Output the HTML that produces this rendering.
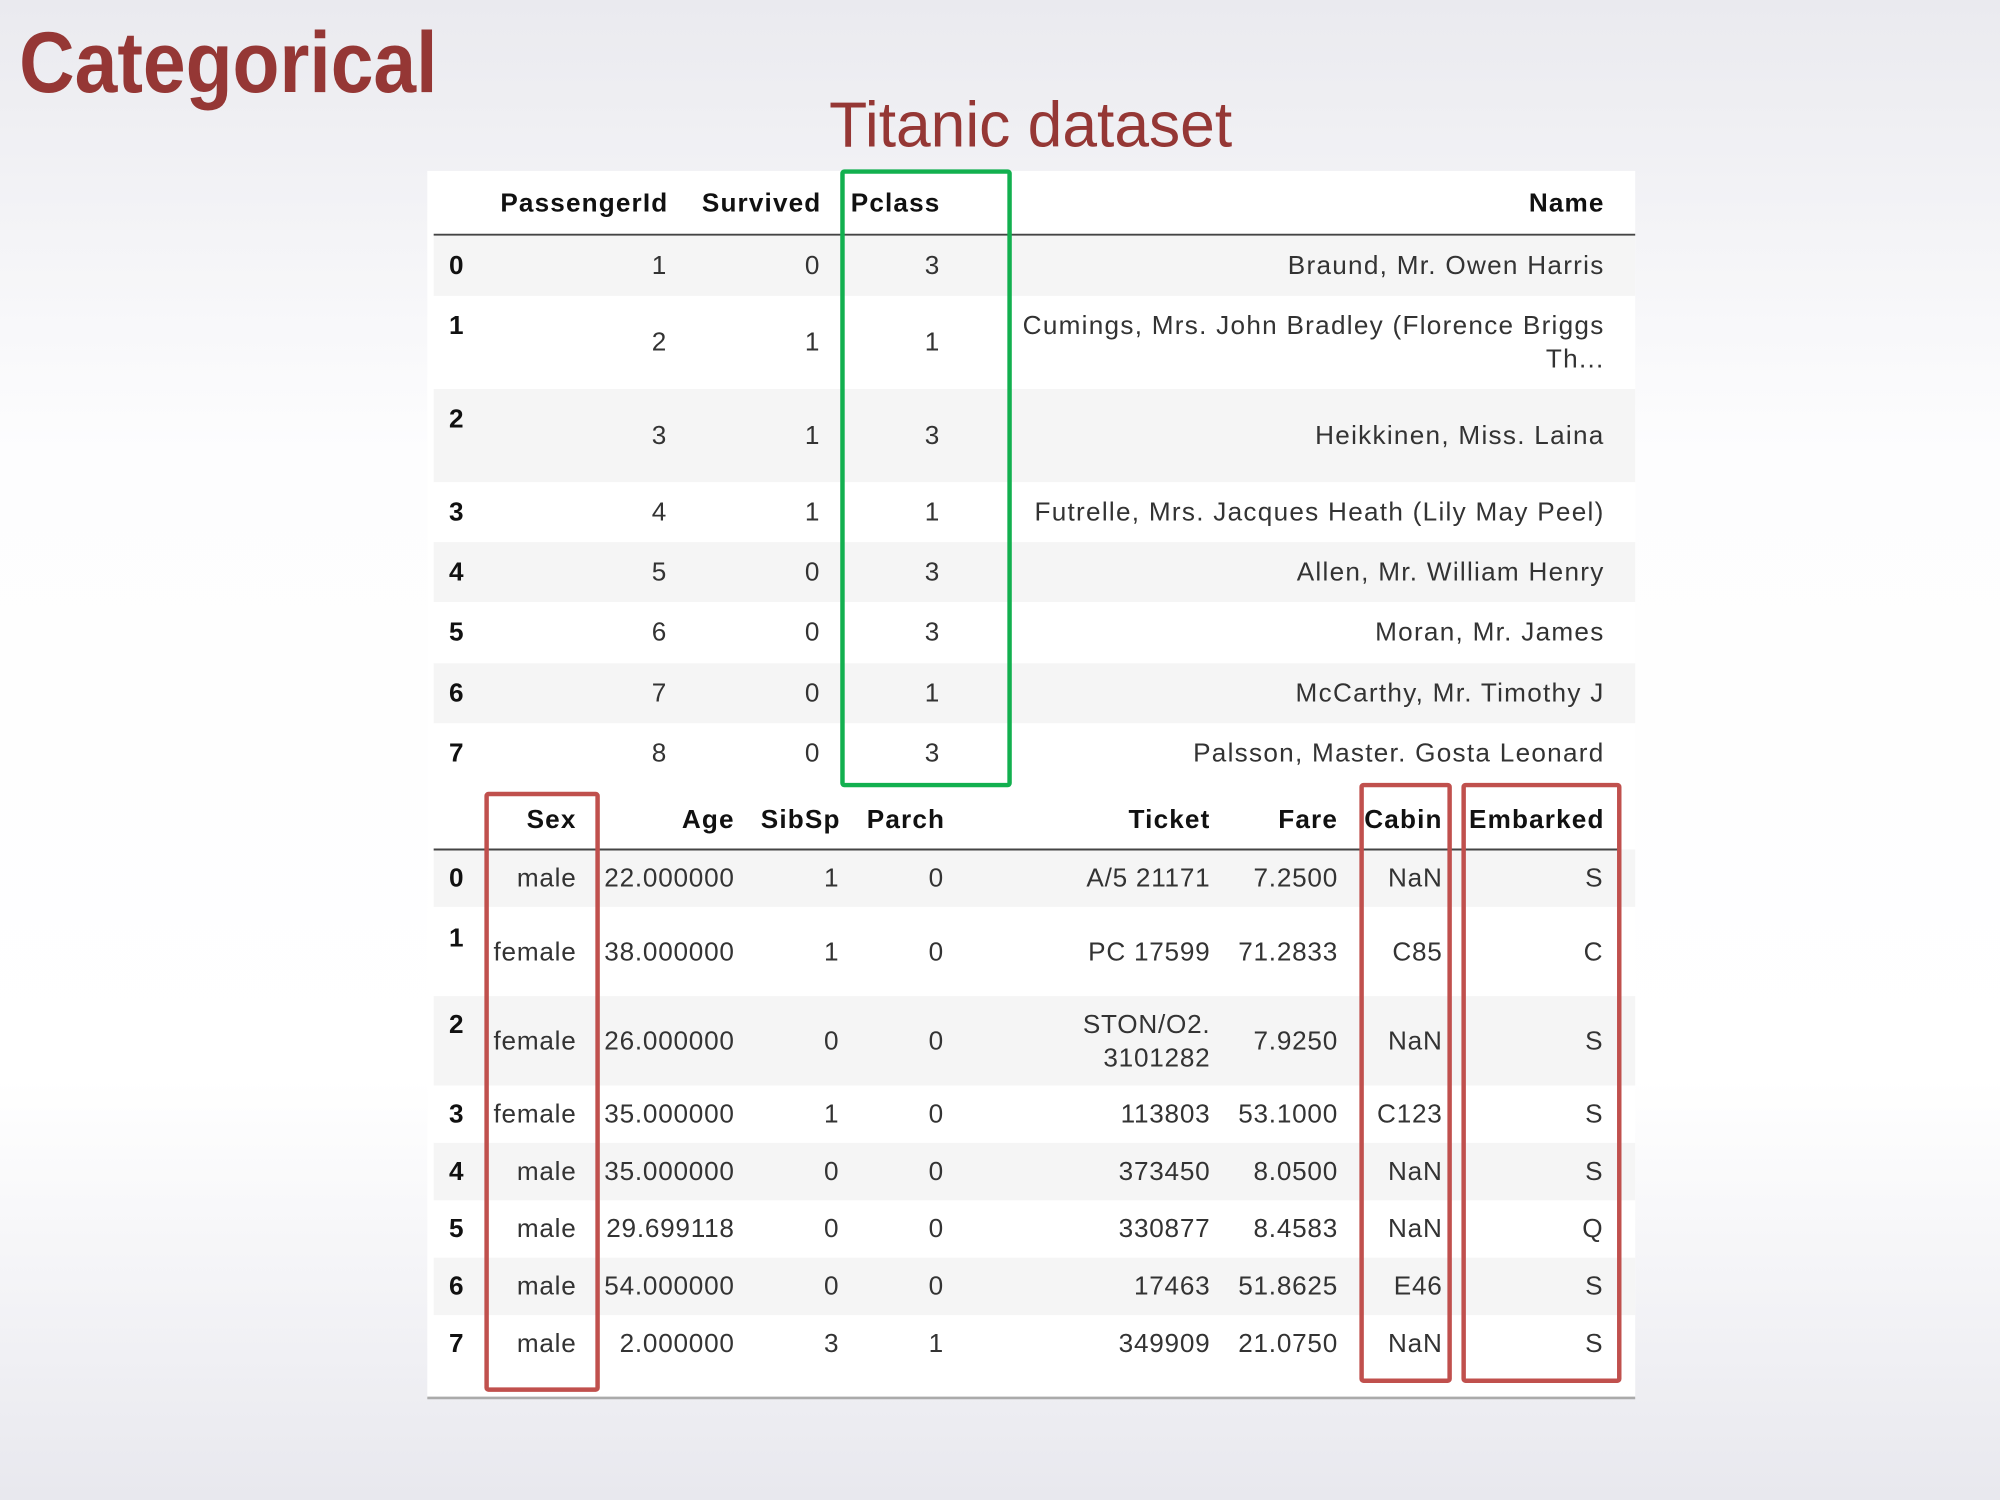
<!DOCTYPE html>
<html><head><meta charset="utf-8"><style>
html,body{margin:0;padding:0;width:2000px;height:1500px;overflow:hidden}
svg{display:block}
.t{font-family:"Liberation Sans",Arial,sans-serif;font-size:20.5px;fill:#333;letter-spacing:0.6px}
.n{letter-spacing:1px}
.h{font-family:"Liberation Sans",Arial,sans-serif;font-size:20.5px;font-weight:bold;fill:#111;letter-spacing:0.9px}
</style></head><body>
<svg width="2000" height="1500" viewBox="0 0 1568 1176" xmlns="http://www.w3.org/2000/svg">
<defs><linearGradient id="bg" x1="0" y1="0" x2="0" y2="1">
<stop offset="0" stop-color="#eaeaef"/><stop offset="0.3" stop-color="#fdfdfe"/><stop offset="0.72" stop-color="#ffffff"/><stop offset="1" stop-color="#e8e8ee"/></linearGradient></defs>
<rect width="1568" height="1176" fill="url(#bg)"/>
<text x="15" y="72" font-family="Liberation Sans,Arial,sans-serif" font-weight="bold" font-size="68" fill="#953735" textLength="328" lengthAdjust="spacingAndGlyphs">Categorical</text>
<text x="650" y="115" font-family="Liberation Sans,Arial,sans-serif" font-size="50" fill="#953735" textLength="316" lengthAdjust="spacingAndGlyphs">Titanic dataset</text>
<rect x="335" y="134" width="947" height="962" fill="#fff"/>
<g fill="#f5f5f5">
<rect x="340" y="185" width="942" height="47"/>
<rect x="340" y="305" width="942" height="73"/>
<rect x="340" y="425" width="942" height="47"/>
<rect x="340" y="520" width="942" height="47"/>
<rect x="340" y="666" width="942" height="45"/>
<rect x="340" y="781" width="942" height="70"/>
<rect x="340" y="896" width="942" height="45"/>
<rect x="340" y="986" width="942" height="45"/>
</g>
<line x1="340" y1="184" x2="1282" y2="184" stroke="#444" stroke-width="1.5"/>
<line x1="340" y1="666" x2="1270" y2="666" stroke="#444" stroke-width="1.5"/>
<line x1="335" y1="1096" x2="1282" y2="1096" stroke="#aaa" stroke-width="2"/>
<g class="h" text-anchor="end">
<text x="524" y="166">PassengerId</text><text x="644" y="166">Survived</text><text x="1258" y="166">Name</text>
</g>
<text class="h" x="667" y="166">Pclass</text>
<g class="h"><text x="352" y="215">0</text><text x="352" y="262">1</text><text x="352" y="335">2</text><text x="352" y="408">3</text><text x="352" y="455">4</text><text x="352" y="502">5</text><text x="352" y="550">6</text><text x="352" y="597">7</text></g>
<g class="t" text-anchor="end">
<text x="523" y="215">1</text><text x="643" y="215">0</text><text x="737" y="215">3</text><text class="n" x="1258" y="215">Braund, Mr. Owen Harris</text>
<text x="523" y="275">2</text><text x="643" y="275">1</text><text x="737" y="275">1</text><text class="n" x="1258" y="262">Cumings, Mrs. John Bradley (Florence Briggs</text><text class="n" x="1258" y="288">Th...</text>
<text x="523" y="348">3</text><text x="643" y="348">1</text><text x="737" y="348">3</text><text class="n" x="1258" y="348">Heikkinen, Miss. Laina</text>
<text x="523" y="408">4</text><text x="643" y="408">1</text><text x="737" y="408">1</text><text class="n" x="1258" y="408">Futrelle, Mrs. Jacques Heath (Lily May Peel)</text>
<text x="523" y="455">5</text><text x="643" y="455">0</text><text x="737" y="455">3</text><text class="n" x="1258" y="455">Allen, Mr. William Henry</text>
<text x="523" y="502">6</text><text x="643" y="502">0</text><text x="737" y="502">3</text><text class="n" x="1258" y="502">Moran, Mr. James</text>
<text x="523" y="550">7</text><text x="643" y="550">0</text><text x="737" y="550">1</text><text class="n" x="1258" y="550">McCarthy, Mr. Timothy J</text>
<text x="523" y="597">8</text><text x="643" y="597">0</text><text x="737" y="597">3</text><text class="n" x="1258" y="597">Palsson, Master. Gosta Leonard</text>
</g>
<g class="h" text-anchor="end">
<text x="452" y="649">Sex</text><text x="576" y="649">Age</text><text x="659" y="649">SibSp</text><text x="741" y="649">Parch</text><text x="949" y="649">Ticket</text><text x="1049" y="649">Fare</text><text x="1131" y="649">Cabin</text><text x="1258" y="649">Embarked</text>
</g>
<g class="h"><text x="352" y="695">0</text><text x="352" y="742">1</text><text x="352" y="810">2</text><text x="352" y="880">3</text><text x="352" y="925">4</text><text x="352" y="970">5</text><text x="352" y="1015">6</text><text x="352" y="1060">7</text></g>
<g class="t" text-anchor="end">
<text x="452" y="695">male</text><text x="576" y="695">22.000000</text><text x="658" y="695">1</text><text x="740" y="695">0</text><text x="949" y="695">A/5 21171</text><text x="1049" y="695">7.2500</text><text x="1131" y="695">NaN</text><text x="1257" y="695">S</text>
<text x="452" y="753">female</text><text x="576" y="753">38.000000</text><text x="658" y="753">1</text><text x="740" y="753">0</text><text x="949" y="753">PC 17599</text><text x="1049" y="753">71.2833</text><text x="1131" y="753">C85</text><text x="1257" y="753">C</text>
<text x="452" y="823">female</text><text x="576" y="823">26.000000</text><text x="658" y="823">0</text><text x="740" y="823">0</text><text x="949" y="810">STON/O2.</text><text x="949" y="836">3101282</text><text x="1049" y="823">7.9250</text><text x="1131" y="823">NaN</text><text x="1257" y="823">S</text>
<text x="452" y="880">female</text><text x="576" y="880">35.000000</text><text x="658" y="880">1</text><text x="740" y="880">0</text><text x="949" y="880">113803</text><text x="1049" y="880">53.1000</text><text x="1131" y="880">C123</text><text x="1257" y="880">S</text>
<text x="452" y="925">male</text><text x="576" y="925">35.000000</text><text x="658" y="925">0</text><text x="740" y="925">0</text><text x="949" y="925">373450</text><text x="1049" y="925">8.0500</text><text x="1131" y="925">NaN</text><text x="1257" y="925">S</text>
<text x="452" y="970">male</text><text x="576" y="970">29.699118</text><text x="658" y="970">0</text><text x="740" y="970">0</text><text x="949" y="970">330877</text><text x="1049" y="970">8.4583</text><text x="1131" y="970">NaN</text><text x="1257" y="970">Q</text>
<text x="452" y="1015">male</text><text x="576" y="1015">54.000000</text><text x="658" y="1015">0</text><text x="740" y="1015">0</text><text x="949" y="1015">17463</text><text x="1049" y="1015">51.8625</text><text x="1131" y="1015">E46</text><text x="1257" y="1015">S</text>
<text x="452" y="1060">male</text><text x="576" y="1060">2.000000</text><text x="658" y="1060">3</text><text x="740" y="1060">1</text><text x="949" y="1060">349909</text><text x="1049" y="1060">21.0750</text><text x="1131" y="1060">NaN</text><text x="1257" y="1060">S</text>
</g>
<rect x="660.5" y="134.5" width="131" height="481" fill="none" stroke="#12b04f" stroke-width="3.5" rx="1.5"/>
<g fill="none" stroke="#c0504d" stroke-width="3.5">
<rect x="381.5" y="622.5" width="87" height="467" rx="1.5"/>
<rect x="1067.5" y="615.5" width="69" height="467" rx="1.5"/>
<rect x="1147.5" y="615.5" width="122" height="467" rx="1.5"/>
</g>
</svg>
</body></html>
